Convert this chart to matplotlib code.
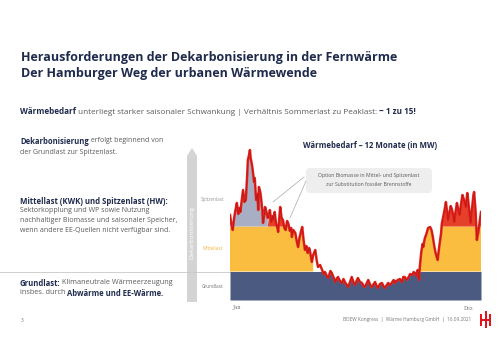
import numpy as np
import matplotlib.pyplot as plt
from matplotlib.patches import FancyBboxPatch, Polygon, Rectangle

plt.rcParams["font.family"] = ["Open Sans", "DejaVu Sans"]

# Wärmebedarf über das Jahr (Tag, MW)
days = [0, 2, 4, 6, 8, 10, 12, 14, 15, 17, 19, 21, 23, 25, 26, 28, 29, 30,
        32, 33, 35, 36, 38, 40, 41, 42, 44, 45, 47, 48, 50, 51, 53, 55, 57,
        58, 60, 62, 63, 65, 67, 69, 70, 72, 73, 75, 77, 79, 81, 83, 85, 87,
        89, 90, 92, 95, 97, 99, 101, 103, 105, 107, 109, 111, 113, 115, 116,
        118, 119, 121, 124, 126, 128, 131, 134, 136, 138, 141, 143, 146, 148,
        151, 153, 155, 157, 160, 163, 165, 167, 170, 172, 175, 177, 180, 182,
        184, 186, 189, 192, 194, 196, 199, 201, 204, 206, 209, 211, 213, 215,
        218, 221, 223, 225, 228, 230, 233, 236, 238, 240, 242, 244, 247, 250,
        252, 254, 257, 259, 262, 265, 267, 269, 271, 273, 275, 276, 278, 280,
        281, 283, 286, 288, 291, 293, 295, 297, 299, 301, 302, 304, 307, 308,
        310, 312, 314, 315, 317, 319, 321, 323, 325, 326, 328, 330, 332, 334,
        336, 338, 339, 341, 343, 345, 346, 348, 350, 352, 354, 355, 357, 359,
        360, 361, 363, 365]
demand = [850, 760, 700, 820, 900, 970, 860, 920, 880, 990, 1100, 980, 1000,
          1250, 1400, 1460, 1500, 1420, 1350, 1300, 1180, 1220, 1000, 1060,
          900, 1130, 1080, 1030, 900, 770, 860, 930, 880, 820, 860, 900, 780,
          840, 800, 880, 760, 720, 680, 850, 930, 820, 800, 720, 700, 790, 760,
          690, 720, 630, 700, 670, 590, 530, 620, 680, 730, 600, 500, 540, 470,
          520, 500, 420, 380, 450, 500, 400, 330, 350, 300, 260, 280, 240, 220,
          290, 270, 220, 180, 210, 230, 190, 170, 210, 180, 150, 130, 190, 230,
          170, 150, 190, 220, 180, 170, 140, 130, 170, 200, 150, 130, 160, 180,
          140, 120, 160, 170, 140, 120, 150, 170, 150, 180, 200, 170, 190, 200,
          210, 180, 230, 230, 200, 220, 260, 250, 280, 270, 240, 300, 200, 330,
          470, 560, 530, 610, 670, 720, 730, 700, 630, 540, 470, 420, 400, 520,
          670, 760, 830, 900, 980, 920, 800, 870, 940, 900, 830, 780, 880, 970,
          900, 850, 960, 1050, 1030, 980, 930, 1070, 1020, 880, 770, 920, 1050,
          1080, 900, 600, 640, 670, 780, 880]

grundlast = 285
mittellast = 735
winter_end, winter_start = 121, 277
spitze_end = 56

NAVY = "#1f2a4d"
GREY = "#5a5a5a"

fig = plt.figure(figsize=(5.0, 3.53), dpi=100)
ov = fig.add_axes([0, 0, 1, 1])
ov.set_xlim(0, 500)
ov.set_ylim(353, 0)
ov.axis("off")
fig.canvas.draw()
renderer = fig.canvas.get_renderer()


def rich(x, y, parts, size, bsize=None):
    for txt, bold in parts:
        t = ov.text(x, y, txt, va="center", ha="left",
                    fontsize=(bsize or size) if bold else size,
                    fontweight="bold" if bold else "normal",
                    color=NAVY if bold else GREY)
        x += t.get_window_extent(renderer).width


# Titel
ov.text(21, 58, "Herausforderungen der Dekarbonisierung in der Fernwärme",
        fontsize=9.0, fontweight="bold", color=NAVY, va="center")
ov.text(21, 73, "Der Hamburger Weg der urbanen Wärmewende",
        fontsize=9.0, fontweight="bold", color=NAVY, va="center")

rich(20, 112, [("Wärmebedarf", True),
               (" unterliegt starker saisonaler Schwankung | Verhältnis "
                "Sommerlast zu Peaklast: ", False),
               ("~ 1 zu 15!", True)], 5.85)

rich(20, 141, [("Dekarbonisierung", True), (" erfolgt beginnend von", False)],
     5.0, 5.5)
rich(20, 152, [("der Grundlast zur Spitzenlast.", False)], 5.0)

rich(20, 202, [("Mittellast (KWK) und Spitzenlast (HW):", True)], 5.6, 5.6)
rich(20, 211, [("Sektorkopplung und WP sowie Nutzung", False)], 5.0)
rich(20, 221, [("nachhaltiger Biomasse und saisonaler Speicher,", False)], 5.0)
rich(20, 231, [("wenn andere EE-Quellen nicht verfügbar sind.", False)], 5.0)

rich(20, 283, [("Grundlast:", True), (" Klimaneutrale Wärmeerzeugung", False)],
     5.2, 5.5)
rich(20, 293, [("insbes. durch ", False), ("Abwärme und EE-Wärme.", True)],
     5.2, 5.5)

ov.plot([0, 230], [272, 272], color="#c8c8c8", lw=0.6)

# Pfeil Dekarbonisierung
ov.add_patch(Polygon([[187, 302], [197, 302], [197, 156], [192, 148],
                      [187, 156]], closed=True, color="#d4d4d4", lw=0))
ov.text(192, 232, "Dekarbonisierung", rotation=90, fontsize=4.6,
        color="white", ha="center", va="center")

ov.text(213, 200, "Spitzenlast", fontsize=3.4, color="#999999",
        ha="center", va="center")
ov.text(213, 249, "Mittellast", fontsize=3.4, color="#f2b33d",
        ha="center", va="center")
ov.text(213, 286, "Grundlast", fontsize=3.4, color="#777777",
        ha="center", va="center")

# Diagramm
ax = fig.add_axes([230 / 500, 53 / 353, 251 / 500, 160 / 353])
d = np.array(days, dtype=float)
q = np.array(demand, dtype=float)
winter = (d <= winter_end) | (d >= winter_start)

ax.fill_between(d, 0, np.minimum(q, grundlast), color="#4b5a80", lw=0)
ax.fill_between(d, grundlast, np.minimum(q, mittellast),
                where=winter & (q > grundlast), interpolate=True,
                color="#fbbd40", lw=0)
ax.fill_between(d, mittellast, q, where=(d <= spitze_end) & (q > mittellast),
                interpolate=True, color="#a8aec4", lw=0)
ax.fill_between(d, mittellast, q, where=(d > spitze_end) & (q > mittellast),
                interpolate=True, color="#e5402a", lw=0)
ax.plot(d, q, color="#e5261c", lw=1.8)
ax.plot(d, q, color="#b8141a", lw=0.5)
ax.set_xlim(0, 365)
ax.set_ylim(0, 1600)
ax.axis("off")

ov.text(370, 145, "Wärmebedarf – 12 Monate (in MW)", fontsize=5.6,
        fontweight="bold", color=NAVY, ha="center", va="center")

ov.add_patch(FancyBboxPatch((306, 168), 126, 25,
                            boxstyle="round,pad=0,rounding_size=4",
                            fc="#eeeeee", ec="none"))
ov.text(369, 175, "Option Biomasse in Mittel- und Spitzenlast", fontsize=3.7,
        color=GREY, ha="center", va="center")
ov.text(369, 185, "zur Substitution fossiler Brennstoffe", fontsize=3.7,
        color=GREY, ha="center", va="center")
ov.plot([304, 273], [177, 202], color="#aaaaaa", lw=0.5)
ov.plot([306, 290], [181, 218], color="#aaaaaa", lw=0.5)

ov.text(237, 308, "Jan", fontsize=3.6, color="#777777", ha="center",
        va="center", family="DejaVu Serif")
ov.text(469, 308, "Dez", fontsize=3.6, color="#777777", ha="center",
        va="center", family="DejaVu Serif")

# Fußzeile
ov.text(21, 320, "3", fontsize=3.4, color="#777777", va="center")
ov.text(471, 320, "BDEW Kongress  |  Wärme Hamburg GmbH  |  16.09.2021",
        fontsize=3.4, color="#777777", ha="right", va="center")
for rx, ry, rw, rh in [(480, 314, 2.2, 12), (484.5, 311, 2.2, 17),
                       (489, 314, 2.2, 12), (480, 319, 11, 2)]:
    ov.add_patch(Rectangle((rx, ry), rw, rh, color="#e3131b", lw=0))

fig.savefig("out.png", dpi=100, facecolor="white")
